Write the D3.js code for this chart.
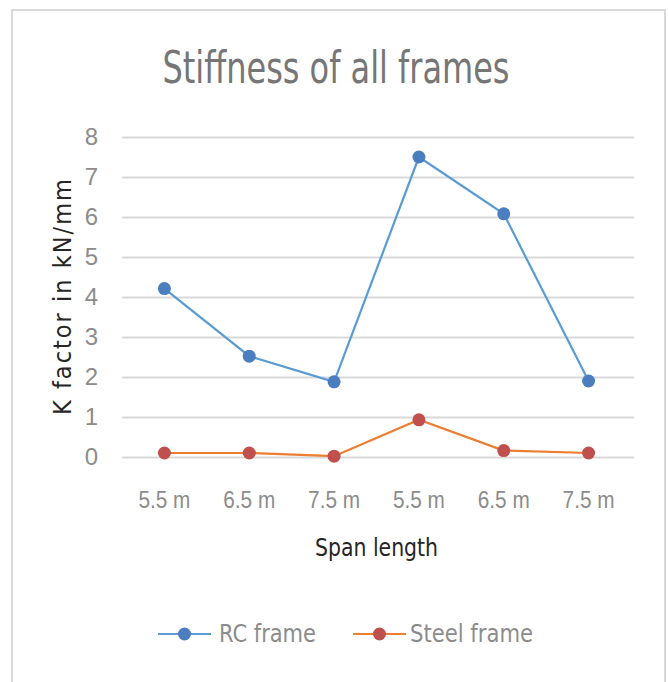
<!DOCTYPE html>
<html>
<head>
<meta charset="utf-8">
<script src="https://cdn.jsdelivr.net/npm/d3@7"></script>
<style>
  html, body { margin: 0; padding: 0; background: #fff; }
  svg { display: block; font-family: "DejaVu Sans Condensed", "Liberation Sans Narrow", "Liberation Sans", sans-serif; }
</style>
</head>
<body>
<svg id="chart" width="668" height="682"></svg>
<script>
// Span length categories (two groups of three spans)
const categories = ["5.5 m", "6.5 m", "7.5 m", "5.5 m", "6.5 m", "7.5 m"];
// K factor (kN/mm) for each frame type
const rcFrame = [4.21, 2.52, 1.88, 7.5, 6.08, 1.9];
const steelFrame = [0.1, 0.1, 0.02, 0.93, 0.16, 0.1];
const yTicks = [0, 1, 2, 3, 4, 5, 6, 7, 8];
const seriesNames = ["RC frame", "Steel frame"];

const svg = d3.select("#chart");

// outer frame (open at the bottom)
svg.append("path")
  .attr("d", "M12,682 V10 H665 V682")
  .attr("fill", "none")
  .attr("stroke", "#d9d9d9")
  .attr("stroke-width", 2);

const plot = { left: 122, right: 631, top: 137, bottom: 457 };

const x = d3.scaleBand()
  .domain(d3.range(categories.length))
  .range([plot.left, plot.right]);
const cx = i => x(i) + x.bandwidth() / 2;

const y = d3.scaleLinear()
  .domain([0, 8])
  .range([plot.bottom, plot.top]);

// title
svg.append("text")
  .attr("x", 336)
  .attr("y", 83)
  .attr("text-anchor", "middle")
  .attr("font-size", 44)
  .attr("textLength", 347)
  .attr("lengthAdjust", "spacingAndGlyphs")
  .attr("fill", "#767676")
  .text("Stiffness of all frames");

// y axis with gridlines
const yAxis = svg.append("g")
  .attr("transform", `translate(${plot.left},0)`)
  .call(d3.axisLeft(y)
    .tickValues(yTicks)
    .tickSize(-(plot.right - plot.left + 3))
    .tickPadding(24));
yAxis.select(".domain").remove();
yAxis.selectAll(".tick line")
  .attr("stroke", "#d9d9d9")
  .attr("stroke-width", 2);
yAxis.selectAll(".tick text")
  .attr("font-size", 24)
  .attr("font-family", null)
  .attr("fill", "#8c8c8c");

// x axis labels
const xAxis = svg.append("g")
  .attr("transform", `translate(0,${plot.bottom})`)
  .call(d3.axisBottom(x)
    .tickFormat(i => categories[i])
    .tickSize(0)
    .tickPadding(34));
xAxis.select(".domain").remove();
xAxis.selectAll(".tick text")
  .attr("font-size", 24)
  .attr("font-family", null)
  .attr("textLength", 52)
  .attr("lengthAdjust", "spacingAndGlyphs")
  .attr("fill", "#8c8c8c");

// axis titles
svg.append("text")
  .attr("x", (plot.left + plot.right) / 2)
  .attr("y", 556)
  .attr("text-anchor", "middle")
  .attr("font-size", 24)
  .attr("textLength", 123)
  .attr("lengthAdjust", "spacingAndGlyphs")
  .attr("fill", "#262626")
  .text("Span length");

svg.append("text")
  .attr("transform", `translate(71,${(plot.top + plot.bottom) / 2}) rotate(-90)`)
  .attr("text-anchor", "middle")
  .attr("font-size", 25)
  .attr("textLength", 236)
  .attr("lengthAdjust", "spacing")
  .attr("fill", "#262626")
  .text("K factor in kN/mm");

// series
const series = [
  { name: seriesNames[0], values: rcFrame, line: "#5b9bd5", marker: "#4a7ebf" },
  { name: seriesNames[1], values: steelFrame, line: "#ed7d31", marker: "#c0504d" }
];

const line = d3.line()
  .x((d, i) => cx(i))
  .y(d => y(d));

series.forEach(s => {
  svg.append("path")
    .datum(s.values)
    .attr("d", line)
    .attr("fill", "none")
    .attr("stroke", s.line)
    .attr("stroke-width", 2.2);
  svg.append("g")
    .selectAll("circle")
    .data(s.values)
    .join("circle")
    .attr("cx", (d, i) => cx(i))
    .attr("cy", d => y(d))
    .attr("r", 6.5)
    .attr("fill", s.marker);
});

// legend
const legendItems = [
  { x: 158, textX: 219, w: 97 },
  { x: 353, textX: 410, w: 123 }
];
const legendY = 634;
series.forEach((s, k) => {
  const g = svg.append("g");
  const lx = legendItems[k].x;
  g.append("line")
    .attr("x1", lx).attr("x2", lx + 53)
    .attr("y1", legendY).attr("y2", legendY)
    .attr("stroke", s.line).attr("stroke-width", 2.2);
  g.append("circle")
    .attr("cx", lx + 26.5).attr("cy", legendY).attr("r", 6.5)
    .attr("fill", s.marker);
  g.append("text")
    .attr("x", legendItems[k].textX)
    .attr("y", legendY + 8)
    .attr("font-size", 24)
    .attr("textLength", legendItems[k].w)
    .attr("lengthAdjust", "spacingAndGlyphs")
    .attr("fill", "#8c8c8c")
    .text(s.name);
});
</script>
</body>
</html>
